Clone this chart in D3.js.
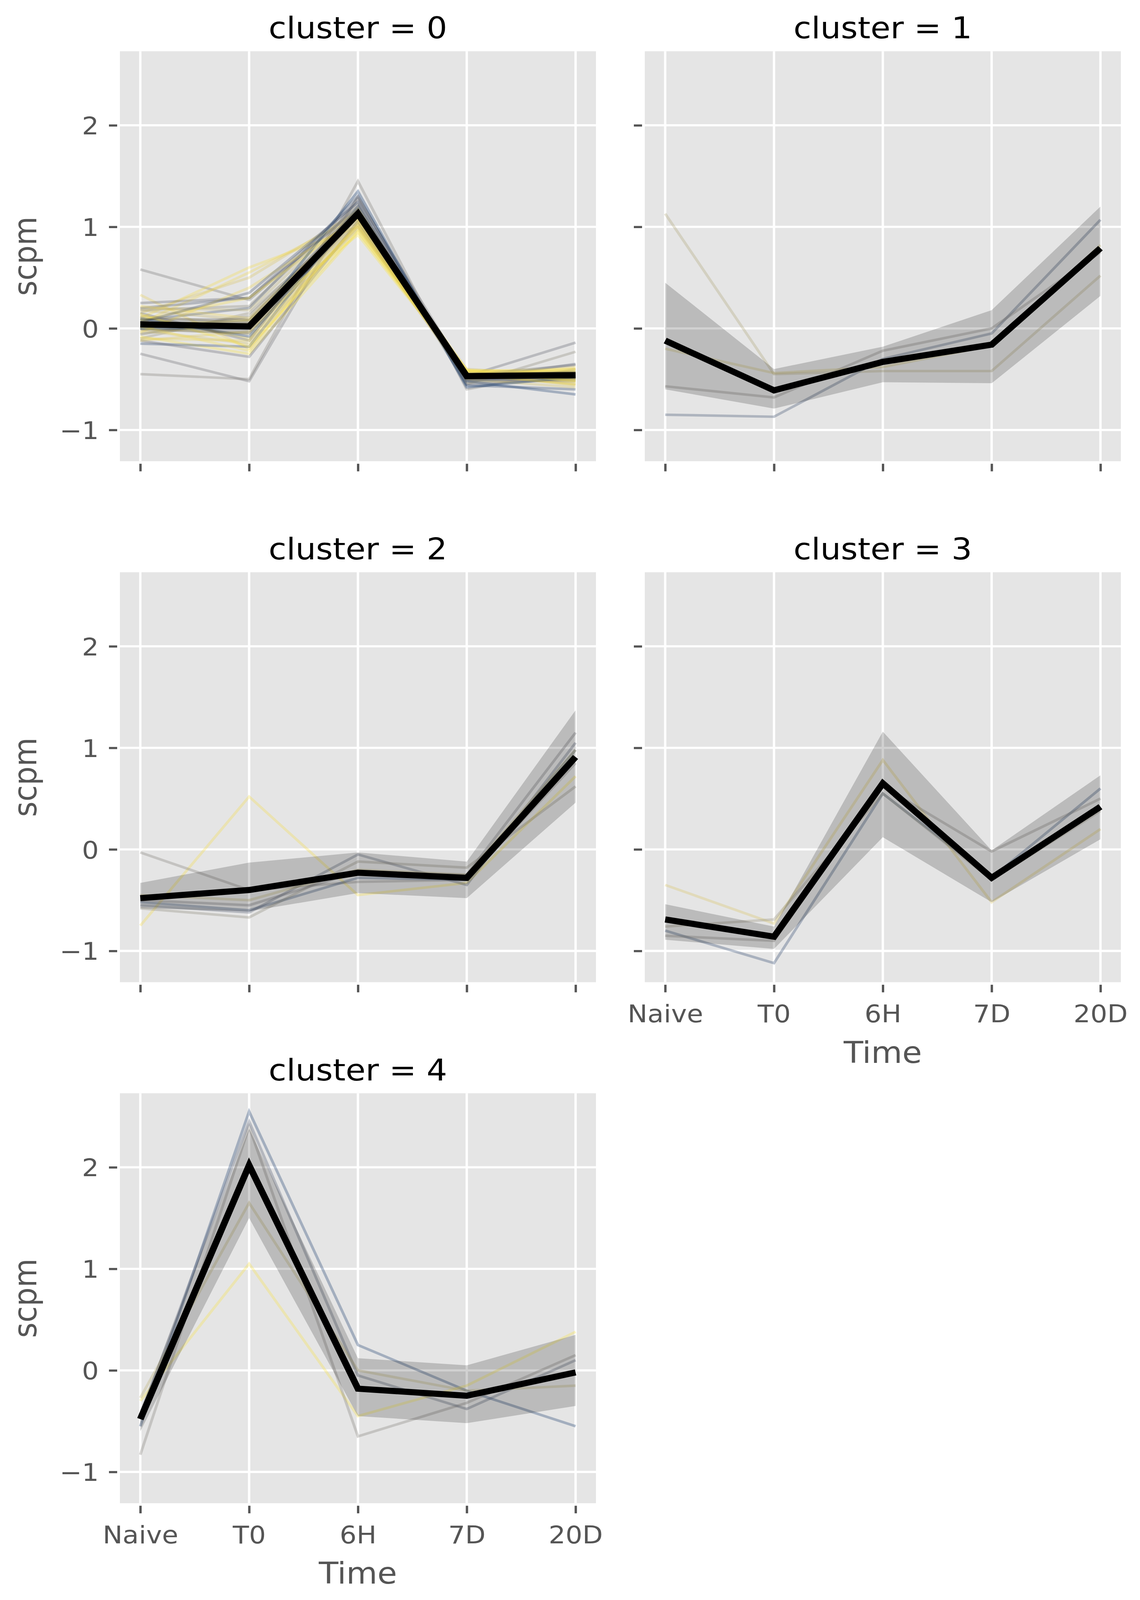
<!DOCTYPE html>
<html>
<head>
<meta charset="utf-8">
<script src="https://cdn.jsdelivr.net/npm/d3@7"></script>
<style>
  html, body { margin: 0; padding: 0; background: #ffffff; overflow: hidden; width: 100%; height: 100%; }
  svg { display: block; width: 100vw; height: 100vh; }
</style>
</head>
<body>
<svg id="chart"></svg>
<script>
// ---------------- data ----------------
const timepoints = ["Naive", "T0", "6H", "7D", "20D"];
const clusters = [0, 1, 2, 3, 4];
const yTicks = [-1, 0, 1, 2];
const yDomain = [-1.308, 2.729];
const xLabel = "Time";
const yLabel = "scpm";

// individual gene profiles per cluster (values at Naive, T0, 6H, 7D, 20D)
const cluster0Genes = [
  [0.58, 0.28, 1.20, -0.50, -0.45],
  [-0.25, -0.52, 1.30, -0.55, -0.50],
  [-0.45, -0.50, 1.45, -0.60, -0.40],
  [0.33, -0.20, 1.05, -0.45, -0.50],
  [0.10, 0.60, 1.00, -0.42, -0.52],
  [0.05, 0.55, 1.10, -0.48, -0.40],
  [0.15, 0.50, 1.15, -0.45, -0.55],
  [0.20, 0.30, 1.25, -0.50, -0.35],
  [0.08, 0.20, 1.30, -0.52, -0.48],
  [0.25, 0.30, 1.18, -0.47, -0.14],
  [0.18, 0.22, 1.22, -0.55, -0.23],
  [-0.10, 0.15, 1.10, -0.50, -0.45],
  [-0.05, 0.05, 1.02, -0.44, -0.50],
  [0.00, -0.05, 0.98, -0.40, -0.47],
  [0.12, -0.10, 1.08, -0.46, -0.55],
  [-0.08, -0.25, 0.95, -0.43, -0.42],
  [0.22, 0.10, 1.12, -0.48, -0.38],
  [-0.15, -0.18, 1.20, -0.56, -0.60],
  [0.10, -0.08, 1.15, -0.52, -0.65],
  [-0.12, -0.28, 1.05, -0.50, -0.52],
  [0.05, 0.00, 1.12, -0.48, -0.44],
  [0.20, 0.18, 1.18, -0.45, -0.48],
  [-0.02, -0.15, 1.02, -0.50, -0.58],
  [0.03, 0.08, 0.92, -0.42, -0.40],
  [0.15, -0.12, 1.28, -0.46, -0.36],
  [-0.06, 0.12, 1.16, -0.53, -0.50],
  [0.12, 0.05, 1.06, -0.44, -0.45],
  [-0.12, -0.03, 1.00, -0.47, -0.53],
  [0.08, 0.30, 1.10, -0.41, -0.43],
  [0.00, 0.00, 1.35, -0.58, -0.48],
  [0.02, -0.22, 1.04, -0.45, -0.50],
  [-0.04, 0.40, 1.08, -0.43, -0.46],
  [0.14, -0.18, 0.96, -0.41, -0.52],
  [0.18, 0.08, 1.14, -0.49, -0.42],
  [-0.10, -0.12, 1.00, -0.44, -0.56],
  [0.06, 0.35, 1.24, -0.51, -0.47]
];
const cluster0Hue = [0.45, 0.40, 0.50, 0.90, 0.95, 0.92, 0.85, 0.30, 0.25, 0.35,
                     0.55, 0.60, 0.70, 0.80, 0.88, 0.97, 0.93, 0.20, 0.15, 0.38,
                     0.65, 0.75, 0.83, 0.98, 0.42, 0.58, 0.68, 0.87, 0.95, 0.10,
                     0.96, 0.91, 0.99, 0.78, 0.89, 0.28];

const cluster1Genes = [
  [1.13, -0.45, -0.42, -0.42, 0.52],
  [-0.85, -0.87, -0.30, -0.05, 1.07],
  [-0.57, -0.68, -0.22, 0.00, 0.75],
  [-0.20, -0.44, -0.38, -0.17, 0.82]
];
const cluster1Hue = [0.70, 0.25, 0.50, 0.80];

const cluster2Genes = [
  [-0.75, 0.52, -0.45, -0.33, 0.72],
  [-0.03, -0.40, -0.32, -0.30, 0.85],
  [-0.52, -0.60, -0.28, -0.30, 0.98],
  [-0.55, -0.62, -0.05, -0.35, 1.05],
  [-0.58, -0.67, -0.12, -0.18, 0.62],
  [-0.50, -0.55, -0.22, -0.25, 1.15],
  [-0.45, -0.50, -0.20, -0.25, 0.98]
];
const cluster2Hue = [0.95, 0.50, 0.20, 0.30, 0.55, 0.40, 0.75];

const cluster3Genes = [
  [-0.35, -0.73, 0.88, -0.52, 0.20],
  [-0.80, -1.12, 0.55, -0.28, 0.60],
  [-0.85, -0.90, 0.62, -0.02, 0.50],
  [-0.76, -0.69, 0.55, -0.30, 0.38]
];
const cluster3Hue = [0.85, 0.20, 0.50, 0.60];

const cluster4Genes = [
  [-0.55, 2.55, 0.25, -0.20, -0.55],
  [-0.30, 1.05, -0.45, -0.15, 0.38],
  [-0.83, 2.40, -0.65, -0.32, 0.15],
  [-0.45, 2.45, -0.05, -0.38, 0.10],
  [-0.27, 1.65, 0.00, -0.20, -0.15]
];
const cluster4Hue = [0.15, 0.97, 0.50, 0.30, 0.75];

// cluster mean profiles and confidence band edges
const clusterMean = [
  [0.04, 0.02, 1.13, -0.47, -0.46],
  [-0.12, -0.61, -0.33, -0.16, 0.79],
  [-0.48, -0.40, -0.23, -0.28, 0.91],
  [-0.69, -0.86, 0.65, -0.28, 0.42],
  [-0.48, 2.02, -0.18, -0.25, -0.02]
];
const clusterLower = [
  [-0.02, -0.06, 1.08, -0.50, -0.50],
  [-0.60, -0.79, -0.53, -0.54, 0.32],
  [-0.58, -0.61, -0.43, -0.48, 0.46],
  [-0.89, -0.98, 0.12, -0.52, 0.10],
  [-0.60, 1.50, -0.45, -0.52, -0.35]
];
const clusterUpper = [
  [0.10, 0.10, 1.19, -0.44, -0.42],
  [0.45, -0.40, -0.18, 0.18, 1.20],
  [-0.33, -0.13, -0.03, -0.12, 1.37],
  [-0.54, -0.76, 1.16, -0.01, 0.73],
  [-0.39, 2.38, 0.12, 0.05, 0.35]
];

const clusterGenes = [cluster0Genes, cluster1Genes, cluster2Genes, cluster3Genes, cluster4Genes];
const clusterHue = [cluster0Hue, cluster1Hue, cluster2Hue, cluster3Hue, cluster4Hue];

// ---------------- layout ----------------
const W = 2919, H = 4430;
const colLeft = [307, 1651];
const rowTop = [142, 1584.5, 3027];
const pw = 1219, ph = 1135;
const tickFont = 68, labelFont = 82, titleFont = 83;
const textGrey = "#555555";

const svg = d3.select("#chart")
  .attr("viewBox", `0 0 ${W} ${H}`)
  .attr("preserveAspectRatio", "none")
  .style("font-family", "'DejaVu Sans', sans-serif");
svg.append("rect").attr("width", W).attr("height", H).attr("fill", "#ffffff");

// matplotlib-like margins around the five categorical positions
const xLin = d3.scaleLinear().domain([-0.1875, timepoints.length - 1 + 0.1875]).range([0, pw]);
const xPos = t => xLin(timepoints.indexOf(t));
const y = d3.scaleLinear().domain(yDomain).range([ph, 0]);

const line = d3.line().x((d, i) => xLin(i)).y(d => y(d));
const area = d3.area().x((d, i) => xLin(i)).y0(d => y(d[0])).y1(d => y(d[1]));

clusters.forEach((c, k) => {
  const col = k % 2, row = Math.floor(k / 2);
  const left = colLeft[col], top = rowTop[row];
  const g = svg.append("g").attr("transform", `translate(${left},${top})`);
  const hasXLabels = (k === 3 || k === 4);
  const hasYLabels = (col === 0);

  // background
  g.append("rect").attr("width", pw).attr("height", ph).attr("fill", "#E5E5E5");

  // grid
  g.append("g").selectAll("line").data(timepoints).join("line")
    .attr("x1", d => xPos(d)).attr("x2", d => xPos(d))
    .attr("y1", 0).attr("y2", ph)
    .attr("stroke", "#ffffff").attr("stroke-width", 6);
  g.append("g").selectAll("line").data(yTicks).join("line")
    .attr("x1", 0).attr("x2", pw)
    .attr("y1", d => y(d)).attr("y2", d => y(d))
    .attr("stroke", "#ffffff").attr("stroke-width", 6);

  // gene lines
  const genes = clusterGenes[k];
  const hues = clusterHue[k];
  g.append("g").selectAll("path").data(genes).join("path")
    .attr("d", d => line(d))
    .attr("fill", "none")
    .attr("stroke", (d, i) => d3.interpolateCividis(hues[i]))
    .attr("stroke-opacity", 0.32)
    .attr("stroke-width", 7)
    .attr("stroke-linejoin", "miter");

  // band
  const bandData = clusterLower[k].map((lo, i) => [lo, clusterUpper[k][i]]);
  g.append("path").attr("d", area(bandData))
    .attr("fill", "#000000").attr("fill-opacity", 0.18);

  // mean
  g.append("path").attr("d", line(clusterMean[k]))
    .attr("fill", "none").attr("stroke", "#000000")
    .attr("stroke-width", 17).attr("stroke-linejoin", "miter");

  // y axis
  const yAxis = d3.axisLeft(y).tickValues(yTicks).tickSize(21).tickPadding(26)
    .tickFormat(d => hasYLabels ? d3.format("d")(d).replace("-", "\u2212") : "");
  const ya = g.append("g").attr("transform", "translate(-7,0)").call(yAxis);
  ya.select(".domain").remove();
  ya.selectAll(".tick line").attr("stroke", textGrey).attr("stroke-width", 6);
  ya.selectAll(".tick text").attr("fill", textGrey).attr("font-size", tickFont)
    .attr("font-family", "'DejaVu Sans', sans-serif").attr("dy", "0.36em");

  // x axis
  const xAxis = d3.axisBottom(xLin).tickValues(d3.range(timepoints.length)).tickSize(21).tickPadding(35)
    .tickFormat(i => hasXLabels ? timepoints[i] : "");
  const xa = g.append("g").attr("transform", `translate(0,${ph + 7})`).call(xAxis);
  xa.select(".domain").remove();
  xa.selectAll(".tick line").attr("stroke", textGrey).attr("stroke-width", 6);
  xa.selectAll(".tick text").attr("fill", textGrey).attr("font-size", tickFont)
    .attr("font-family", "'DejaVu Sans', sans-serif");

  // title
  g.append("text").attr("x", pw / 2).attr("y", -36)
    .attr("text-anchor", "middle").attr("font-size", titleFont).attr("fill", "#000000")
    .text(`cluster = ${c}`);

  if (hasYLabels) {
    g.append("text").attr("transform", `translate(-214,${ph / 2}) rotate(-90)`)
      .attr("text-anchor", "middle").attr("font-size", labelFont).attr("fill", textGrey)
      .text(yLabel);
  }
  if (hasXLabels) {
    g.append("text").attr("x", pw / 2).attr("y", ph + 223)
      .attr("text-anchor", "middle").attr("font-size", labelFont).attr("fill", textGrey)
      .text(xLabel);
  }
});
</script>
</body>
</html>
